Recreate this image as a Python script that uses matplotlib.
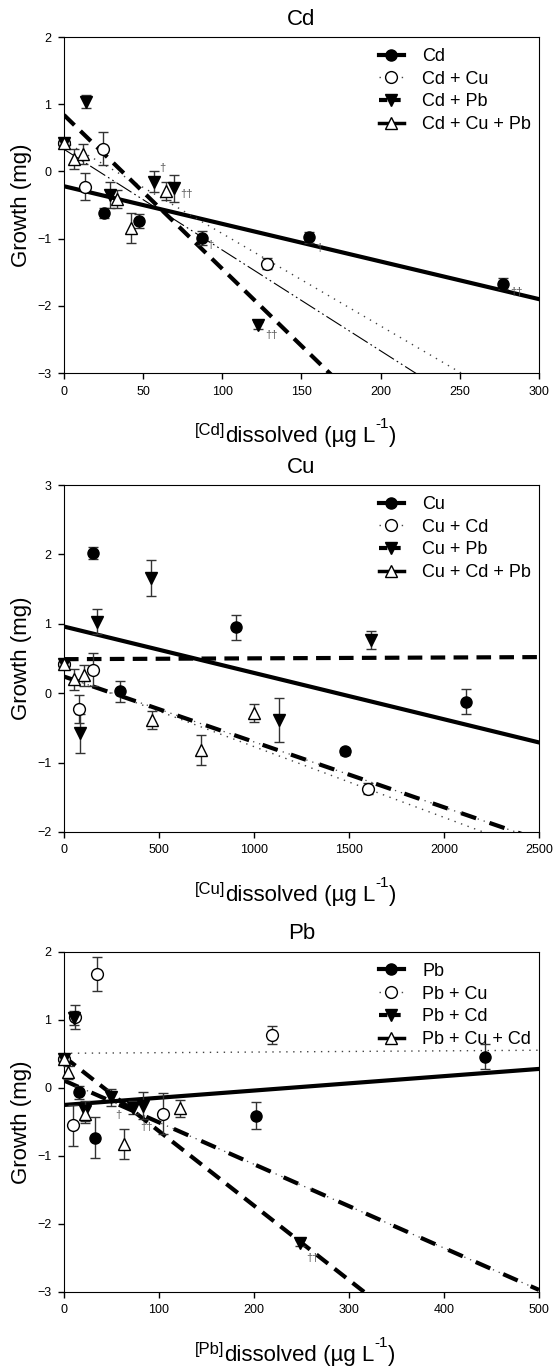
import numpy as np
import matplotlib
matplotlib.use('Agg')
import matplotlib.pyplot as plt
from matplotlib.lines import Line2D

plt.rcParams['font.family'] = ['Liberation Sans', 'DejaVu Sans']

# ---------------- data ----------------
# Cd panel: x = dissolved Cd (ug/L), y = growth (mg), err = error bar half-height
cd_labels = ['Cd', 'Cd + Cu', 'Cd + Pb', 'Cd + Cu + Pb']
cd_x = [[0, 25.3, 47.6, 87, 155, 277],
        [0, 13.3, 24.6, 128],
        [0, 13.9, 29, 56.9, 69.5, 122.7],
        [0, 6.3, 12.2, 33.7, 42.3, 64.2]]
cd_y = [[0.42, -0.62, -0.74, -0.99, -0.98, -1.67],
        [0.42, -0.23, 0.34, -1.37],
        [0.42, 1.04, -0.35, -0.15, -0.25, -2.29],
        [0.42, 0.19, 0.26, -0.41, -0.84, -0.29]]
cd_err = [[0.05, 0.08, 0.1, 0.1, 0.08, 0.08],
          [0.05, 0.2, 0.24, 0.08],
          [0.05, 0.1, 0.2, 0.15, 0.2, 0.05],
          [0.05, 0.15, 0.15, 0.13, 0.22, 0.13]]
cd_fit = [(-0.22, -0.0056), (0.45, -0.01375), (0.84, -0.0229), (0.33, -0.015)]
cd_dag_x = [62, 77.5, 92.7, 161, 286, 131]
cd_dag_y = [0.05, -0.33, -1.1, -1.14, -1.79, -2.43]
cd_dag_t = ['†', '††', '†', '†', '††', '††']

# Cu panel
cu_labels = ['Cu', 'Cu + Cd', 'Cu + Pb', 'Cu + Cd + Pb']
cu_x = [[0, 151, 295, 905, 1478, 2118],
        [0, 77, 151, 1601],
        [0, 84, 172, 458, 1133, 1616],
        [0, 53, 105, 463, 721, 1000]]
cu_y = [[0.42, 2.02, 0.03, 0.95, -0.84, -0.12],
        [0.42, -0.23, 0.34, -1.375],
        [0.42, -0.58, 1.03, 1.66, -0.39, 0.77],
        [0.42, 0.2, 0.26, -0.39, -0.82, -0.29]]
cu_err = [[0.05, 0.08, 0.15, 0.18, 0.05, 0.18],
          [0.05, 0.2, 0.24, 0.08],
          [0.05, 0.28, 0.18, 0.26, 0.32, 0.13],
          [0.05, 0.15, 0.15, 0.13, 0.22, 0.13]]
cu_fit = [(0.96, -0.000668), (0.25, -0.00102), (0.49, 0.000012), (0.24, -0.000942)]

# Pb panel
pb_labels = ['Pb', 'Pb + Cu', 'Pb + Cd', 'Pb + Cu + Cd']
pb_x = [[0, 15.8, 32.6, 202.6, 443.4],
        [0, 9.1, 11.6, 34.4, 103.8, 219.4],
        [0, 10.5, 22, 49.4, 72.9, 83.4, 248.5],
        [0, 4.5, 22, 63, 122]]
pb_y = [[0.42, -0.065, -0.73, -0.41, 0.46],
        [0.42, -0.55, 1.04, 1.68, -0.38, 0.78],
        [0.42, 1.03, -0.34, -0.14, -0.29, -0.26, -2.28],
        [0.42, 0.23, -0.39, -0.83, -0.3]]
pb_err = [[0.05, 0.1, 0.3, 0.2, 0.18],
          [0.05, 0.3, 0.18, 0.25, 0.3, 0.13],
          [0.05, 0.1, 0.15, 0.13, 0.1, 0.2, 0.05],
          [0.05, 0.1, 0.13, 0.22, 0.13]]
pb_fit = [(-0.25, 0.00106), (0.51, 0.00009), (0.46, -0.01095), (0.11, -0.00616)]
pb_dag_x = [57, 87, 261.5]
pb_dag_y = [-0.4, -0.58, -2.5]
pb_dag_t = ['†', '††', '††']


def draw_line(ax, lx, ly, i, thin_last):
    if i == 0:
        ax.plot(lx, ly, color='k', lw=3, zorder=2)
    elif i == 1:
        ax.plot(lx, ly, color='#444444', lw=1, dashes=(1, 4), zorder=2)
    elif i == 2:
        ax.plot(lx, ly, color='k', lw=3, dashes=(3.5, 2), zorder=2)
    elif thin_last:
        ax.plot(lx, ly, color='k', lw=0.8, dashes=(16, 3, 1.5, 3, 1.5, 3), zorder=2)
    else:
        ax.plot(lx, ly, color='#444444', lw=0.9, dashes=(1, 4), zorder=2)
        ax.plot(lx, ly, color='k', lw=3, dashes=(3.8, 3.4), zorder=2)


markers = [dict(marker='o', ms=8, mfc='k', mec='k'),
           dict(marker='o', ms=8.5, mfc='white', mec='k', mew=1),
           dict(marker='v', ms=9, mfc='k', mec='k'),
           dict(marker='^', ms=9, mfc='white', mec='k', mew=1)]
leg_lines = [dict(color='k', lw=3),
             dict(color='#444444', lw=1, dashes=(1, 3)),
             dict(color='k', lw=3, dashes=(2, 1.2)),
             dict(color='k', lw=2.5)]


def panel(ax, title, xs, ys, errs, fits, labels, xmax, xticks, yticks, metal, thin_last):
    for i in range(4):
        a, b = fits[i]
        lx = np.array([0, xmax])
        draw_line(ax, lx, a + b * lx, i, thin_last)
    for i in range(4):
        eb = ax.errorbar(xs[i], ys[i], yerr=errs[i], fmt='none', ecolor='#333333',
                         elinewidth=1, capsize=3.5, capthick=1, zorder=3)
        for art in eb.lines[1] + eb.lines[2]:
            art.set_clip_on(False)
        ax.plot(xs[i], ys[i], ls='none', zorder=4, clip_on=False, **markers[i])
    ax.set_xlim(0, xmax)
    ax.set_ylim(yticks[0], yticks[-1])
    ax.set_xticks(xticks)
    ax.set_yticks(yticks)
    ax.tick_params(direction='out', length=4, width=1, labelsize=9, pad=5,
                   top=False, right=False)
    ax.set_title(title, fontsize=16, pad=9)
    ax.set_ylabel('Growth (mg)', fontsize=16, labelpad=4)

    handles = [Line2D([], [], **leg_lines[i], **markers[i]) for i in range(4)]
    ax.legend(handles, labels, loc='upper left', bbox_to_anchor=(0.64, 1.0),
              frameon=False, fontsize=13, handlelength=1.4, handletextpad=1.0,
              labelspacing=0.32, borderaxespad=0.2)

    # x label: [X]dissolved (ug L-1)
    t1 = ax.annotate('[' + metal + ']', xy=(0.276, 0), xycoords='axes fraction',
                     xytext=(0, -62), textcoords='offset pixels',
                     fontsize=12, ha='left', va='baseline', annotation_clip=False)
    t2 = ax.annotate('dissolved', xy=(1, 0), xycoords=(t1, 'axes fraction'),
                     xytext=(0, -69), textcoords='offset pixels',
                     fontsize=16, ha='left', va='baseline', annotation_clip=False)
    t3 = ax.annotate(' (µg L', xy=(1, 0), xycoords=(t2, 'axes fraction'),
                     xytext=(0, -69), textcoords='offset pixels',
                     fontsize=16, ha='left', va='baseline', annotation_clip=False)
    t4 = ax.annotate('-1', xy=(1, 0), xycoords=(t3, 'axes fraction'),
                     xytext=(0, -55), textcoords='offset pixels',
                     fontsize=11, ha='left', va='baseline', annotation_clip=False)
    ax.annotate(')', xy=(1, 0), xycoords=(t4, 'axes fraction'),
                xytext=(0, -69), textcoords='offset pixels',
                fontsize=16, ha='left', va='baseline', annotation_clip=False)


fig = plt.figure(figsize=(5.54, 13.67), dpi=100)
ax1 = fig.add_axes([0.1155, 0.7271, 0.8574, 0.2458])
ax2 = fig.add_axes([0.1155, 0.3914, 0.8574, 0.2538])
ax3 = fig.add_axes([0.1155, 0.0549, 0.8574, 0.2487])

panel(ax1, 'Cd', cd_x, cd_y, cd_err, cd_fit, cd_labels, 300,
      [0, 50, 100, 150, 200, 250, 300], [-3, -2, -1, 0, 1, 2], 'Cd', True)
panel(ax2, 'Cu', cu_x, cu_y, cu_err, cu_fit, cu_labels, 2500,
      [0, 500, 1000, 1500, 2000, 2500], [-2, -1, 0, 1, 2, 3], 'Cu', False)
panel(ax3, 'Pb', pb_x, pb_y, pb_err, pb_fit, pb_labels, 500,
      [0, 100, 200, 300, 400, 500], [-3, -2, -1, 0, 1, 2], 'Pb', False)

for x, y, t in zip(cd_dag_x, cd_dag_y, cd_dag_t):
    ax1.text(x, y, t, fontsize=8, color='#555555', ha='center', va='center', zorder=5)
for x, y, t in zip(pb_dag_x, pb_dag_y, pb_dag_t):
    ax3.text(x, y, t, fontsize=8, color='#555555', ha='center', va='center', zorder=5)

fig.savefig('out.png', dpi=100)
